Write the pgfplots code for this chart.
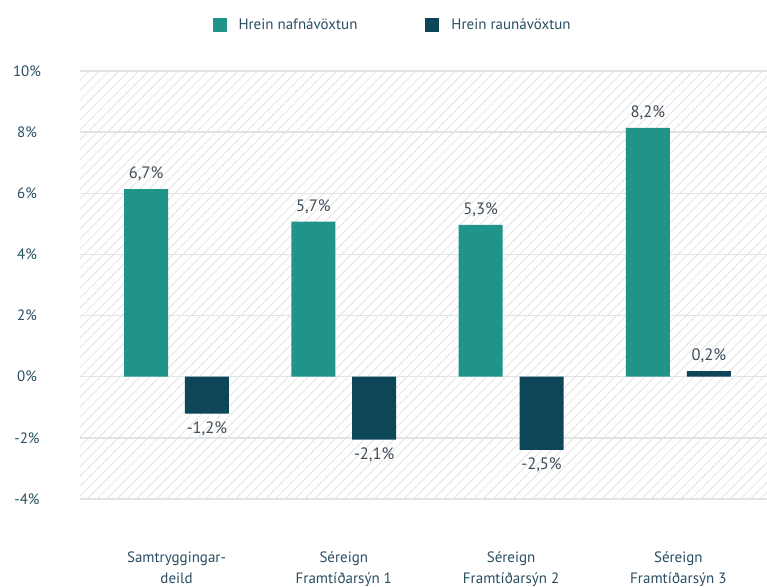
\documentclass[border=0pt]{standalone}
\usepackage{pgfplots}
\usepackage{pgfplotstable}
\pgfplotsset{compat=1.18}
\usepackage{fontspec}
\setmainfont{PT Sans}
\usetikzlibrary{patterns.meta}
\definecolor{teal1}{RGB}{32,148,136}
\definecolor{dark1}{RGB}{13,69,89}
\definecolor{txt}{RGB}{40,78,98}
\definecolor{vlab}{RGB}{62,76,88}
\definecolor{gridc}{RGB}{224,228,231}
\definecolor{hatch}{RGB}{226,226,226}
\pgfplotstableread{
x y lab
0 6.14 {6,7\%}
1 5.07 {5,7\%}
2 4.97 {5,3\%}
3 8.14 {8,2\%}
}\nafn
\pgfplotstableread{
x y lab
0 -1.21 {-1,2\%}
1 -2.06 {-2,1\%}
2 -2.39 {-2,5\%}
3 0.18 {0,2\%}
}\raun
\begin{document}
\begin{tikzpicture}[x=1pt,y=1pt]
\useasboundingbox (0,0) rectangle (767,586);
\begin{axis}[
  at={(80pt,87pt)}, anchor=south west,
  scale only axis, width=687pt, height=428pt,
  xmin=-0.577, xmax=3.53, ymin=-4, ymax=10,
  ybar, bar width=0.263,
  axis line style={draw=none},
  major tick length=0pt,
  ymajorgrids, grid style={gridc, line width=1.5pt},
  axis background/.style={pattern={Lines[angle=45,distance=7pt,line width=0.8pt]}, pattern color=hatch},
  ytick={-4,-2,0,2,4,6,8,10},
  yticklabels={-4\%,-2\%,0\%,2\%,4\%,6\%,8\%,10\%},
  yticklabel style={anchor=center, xshift=-53pt, font=\fontsize{15}{18}\selectfont, text=txt},
  xtick={0,1,2,3},
  xticklabels={{Samtryggingar-\\deild},{Séreign\\Framtíðarsýn 1},{Séreign\\Framtíðarsýn 2},{Séreign\\Framtíðarsýn 3}},
  xticklabel style={align=center, anchor=north, yshift=-49pt, font=\fontsize{15}{21}\selectfont, text=txt},
  nodes near coords, point meta=explicit symbolic,
  visualization depends on={rawy \as \ry},
  nodes near coords align=center,
  nodes near coords style={font=\fontsize{16.5}{19}\selectfont, text=vlab, inner sep=0pt},
  every node near coord/.append style={anchor=center, yshift={\ry<0 ? -15 : 15}},
  legend columns=2,
  legend style={at={(0.455,1.107)}, anchor=center, draw=none, fill=none,
    font=\fontsize{15}{18}\selectfont, text=txt,
    /tikz/every even column/.append style={column sep=66pt}},
  legend image code/.code={\fill[#1] (0pt,-7pt) rectangle (14pt,7pt); \path (24pt,0pt);},
  clip=false,
]
\addplot[fill=teal1, draw=none, bar shift=-0.182] table[x=x,y=y,meta=lab] {\nafn};
\addplot[fill=dark1, draw=none, bar shift=0.182] table[x=x,y=y,meta=lab] {\raun};
\legend{Hrein nafnávöxtun, Hrein raunávöxtun}
\end{axis}
\end{tikzpicture}
\end{document}
